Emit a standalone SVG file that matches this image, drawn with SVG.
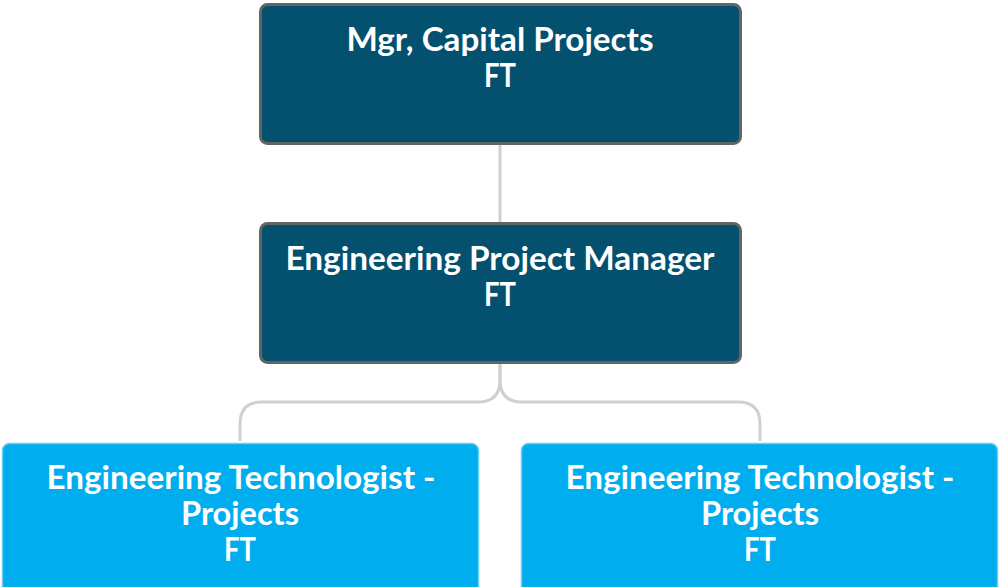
<svg xmlns="http://www.w3.org/2000/svg" width="999" height="587" viewBox="0 0 999 587">
  <style>
    .dark { fill: #03506f; stroke: #646464; stroke-width: 3; }
    .light { fill: #00aeef; stroke: #6ccdf3; stroke-width: 1.5; }
    .lbl { font-family: Lato, "Open Sans", "Liberation Sans", sans-serif; font-weight: bold; font-size: 32px; fill: #ffffff; text-anchor: middle; }
    .conn { fill: none; stroke: #d0d0d0; stroke-width: 3; }
  </style>
  <rect width="999" height="587" fill="#ffffff"/>
  <g id="connectors">
    <path class="conn" d="M500 144 V222"/>
    <path class="conn" d="M500 363 V380 Q500 402 478 402 H262 Q240 402 240 424 V441"/>
    <path class="conn" d="M500 363 V380 Q500 402 522 402 H738 Q760 402 760 424 V441"/>
  </g>
  <g id="mgr-capital-projects">
    <rect class="dark" x="260.5" y="4.5" width="480" height="139" rx="7"/>
    <text class="lbl" x="500" y="51" textLength="307" lengthAdjust="spacingAndGlyphs">Mgr, Capital Projects</text>
    <text class="lbl" x="500" y="87" textLength="32" lengthAdjust="spacingAndGlyphs">FT</text>
  </g>
  <g id="engineering-project-manager">
    <rect class="dark" x="260.5" y="223.5" width="480" height="139" rx="7"/>
    <text class="lbl" x="500" y="270" textLength="429" lengthAdjust="spacingAndGlyphs">Engineering Project Manager</text>
    <text class="lbl" x="500" y="306" textLength="32" lengthAdjust="spacingAndGlyphs">FT</text>
  </g>
  <g id="eng-tech-left">
    <rect class="light" x="2.5" y="443.5" width="476" height="150" rx="7"/>
    <text class="lbl" x="241" y="489" textLength="389" lengthAdjust="spacingAndGlyphs">Engineering Technologist -</text>
    <text class="lbl" x="240" y="525" textLength="118" lengthAdjust="spacingAndGlyphs">Projects</text>
    <text class="lbl" x="240" y="561" textLength="32" lengthAdjust="spacingAndGlyphs">FT</text>
  </g>
  <g id="eng-tech-right">
    <rect class="light" x="521.5" y="443.5" width="476" height="150" rx="7"/>
    <text class="lbl" x="760" y="489" textLength="389" lengthAdjust="spacingAndGlyphs">Engineering Technologist -</text>
    <text class="lbl" x="760" y="525" textLength="118" lengthAdjust="spacingAndGlyphs">Projects</text>
    <text class="lbl" x="760" y="561" textLength="32" lengthAdjust="spacingAndGlyphs">FT</text>
  </g>
</svg>
